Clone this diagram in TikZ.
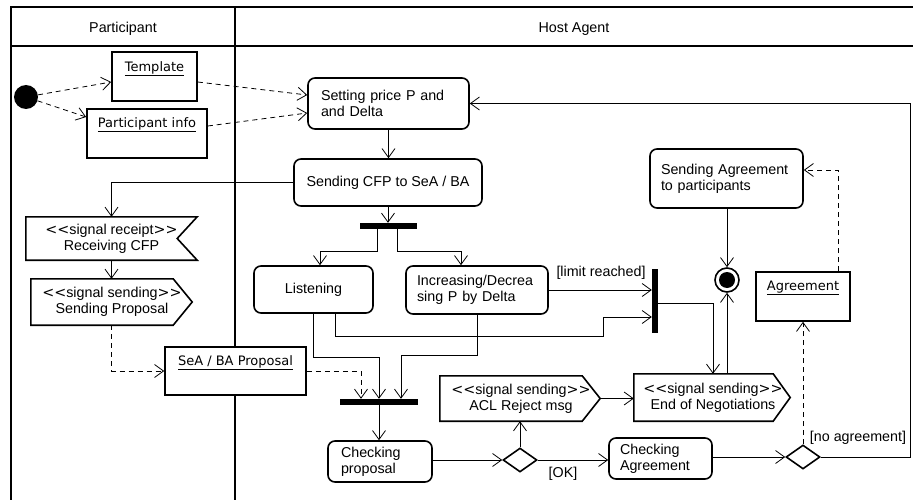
\documentclass[tikz,border=0pt]{standalone}
\usepackage{fontspec}
\setmainfont{Liberation Sans}
\newfontfamily\objfont{DejaVu Sans}
\usetikzlibrary{arrows.meta,calc,shapes.geometric}
% stereotype brackets
\newcommand\StOpen{{\objfont<\kern0pt<}}
\newcommand\StClose{{\objfont>\kern0pt>}}

\begin{document}
\begin{tikzpicture}[x=1pt,y=-1pt,
  txt/.style={font=\fontsize{14.3}{16}\selectfont},
  act/.style={txt, draw, line width=1.6pt, rounded corners=7pt, inner sep=0pt},
  obj/.style={draw, fill=white, line width=1.6pt, inner sep=0pt},
  objlbl/.style={font=\objfont\fontsize{13}{15}\selectfont, inner sep=0pt},
  sig/.style={txt, inner sep=0pt, align=center},
  sigshape/.style={draw, fill=white, line width=1.6pt},
  bar/.style={fill=black, inner sep=0pt},
  flow/.style={line width=0.8pt, -{Straight Barb[length=9pt,width=13pt]}},
  objflow/.style={flow, dash pattern=on 5pt off 4pt},
  guard/.style={txt, inner sep=0pt},
  lane/.style={line width=1.8pt},
  choice/.style={diamond, draw, fill=white, line width=1.6pt, inner sep=0pt,
                 minimum width=34pt, minimum height=24pt}
]
\useasboundingbox (0,0) rectangle (913,500);

% swimlanes
\draw[lane] (11,500) -- (11,7) -- (913,7);
\draw[lane] (11,46) -- (913,46);
\draw[lane] (235,7) -- (235,500);
\node[txt] (laneP) at (123,29) {Participant};
\node[txt] (laneH) at (574,29) {Host Agent};

% initial and final nodes
\node[circle, fill=black, minimum size=24pt, inner sep=0pt] (init) at (26,97) {};
\node[circle, draw, line width=1.6pt, minimum size=24pt, inner sep=0pt] (final) at (727,280) {};
\node[circle, fill=black, minimum size=16pt, inner sep=0pt] (finalDot) at (727,280) {};

% object nodes
\node[obj, minimum width=85pt, minimum height=49pt] (tmpl) at (154.5,76.5) {};
\node[objlbl] (tmplL) at (154.5,69) {\underline{Template}};
\node[obj, minimum width=120pt, minimum height=49pt] (pinfo) at (147,133.5) {};
\node[objlbl] (pinfoL) at (147,125) {\underline{Participant info}};
\node[obj, minimum width=141pt, minimum height=48pt] (seaba) at (235.5,371) {};
\node[objlbl] (seabaL) at (235.5,363) {\underline{SeA / BA Proposal}};
\node[obj, minimum width=94pt, minimum height=49pt] (agr) at (803,296.5) {};
\node[objlbl] (agrL) at (803,288) {\underline{Agreement}};

% actions
\node[act, minimum width=161pt, minimum height=51pt, text width=135pt, align=left]
  (setp) at (388.5,103.5) {Setting price P and\\and Delta};
\node[act, minimum width=188pt, minimum height=47pt] (cfp) at (388,182.5) {Sending CFP to SeA / BA};
\node[act, minimum width=119pt, minimum height=47pt] (listen) at (313.5,289.5) {Listening};
\node[act, minimum width=142pt, minimum height=48pt, text width=120pt, align=left]
  (incr) at (477,290) {Increasing/Decrea\\sing P by Delta};
\node[act, minimum width=153pt, minimum height=59pt, text width=131pt, align=left]
  (sagr) at (726.5,178.5) {Sending Agreement\\to participants};
\node[act, minimum width=104pt, minimum height=41pt, text width=78pt, align=left]
  (chkp) at (380,461.5) {Checking\\proposal};
\node[act, minimum width=103pt, minimum height=41pt, text width=81pt, align=left]
  (chka) at (660.5,458.5) {Checking\\Agreement};

% signal receipt / sending actions
\node[sig, minimum width=171pt, minimum height=43pt] (recv) at (111.5,238.5) {};
\draw[sigshape] (recv.north west) -- (recv.north east) -- ($(recv.east)+(-20,0)$)
  -- (recv.south east) -- (recv.south west) -- cycle;
\node[sig] (recvT) at (111.5,239) {\StOpen signal receipt\StClose\\Receiving CFP};

\node[sig, minimum width=161pt, minimum height=46pt] (sprop) at (111.5,302) {};
\draw[sigshape] (sprop.north west) -- ($(sprop.north east)+(-19,0)$) -- (sprop.east)
  -- ($(sprop.south east)+(-19,0)$) -- (sprop.south west) -- cycle;
\node[sig] (spropT) at (112,302) {\StOpen signal sending\StClose\\Sending Proposal};

\node[sig, minimum width=160pt, minimum height=45pt] (acl) at (520,398.5) {};
\draw[sigshape] (acl.north west) -- ($(acl.north east)+(-18,0)$) -- (acl.east)
  -- ($(acl.south east)+(-18,0)$) -- (acl.south west) -- cycle;
\node[sig] (aclT) at (521,399) {\StOpen signal sending\StClose\\ACL Reject msg};

\node[sig, minimum width=156pt, minimum height=47pt] (endn) at (712,397.5) {};
\draw[sigshape] (endn.north west) -- ($(endn.north east)+(-17,0)$) -- (endn.east)
  -- ($(endn.south east)+(-17,0)$) -- (endn.south west) -- cycle;
\node[sig] (endnT) at (713,398) {\StOpen signal sending\StClose\\End of Negotiations};

% fork / join bars
\node[bar, minimum width=57pt, minimum height=6pt] (fork) at (388.5,226) {};
\node[bar, minimum width=78pt, minimum height=6pt] (join) at (379,402) {};
\node[bar, minimum width=6pt, minimum height=64pt] (vbar) at (655,301) {};

% decisions
\node[choice] (d1) at (520,460) {};
\node[choice] (d2) at (803,457) {};

% object flows
\draw[objflow] (init) -- ($(tmpl.west)+(0,5.5)$);
\draw[objflow] (init) -- ($(pinfo.west)+(0,-16.5)$);
\draw[objflow] ($(tmpl.east)+(0,5.5)$) -- ($(setp.west)+(0,-8.5)$);
\draw[objflow] ($(pinfo.east)+(0,-7.5)$) -- ($(setp.west)+(0,9.5)$);
\draw[objflow] (sprop.south) |- (seaba.west);
\draw[objflow] (seaba.east) -| ($(join.north)+(-18,0)$);
\draw[objflow] (d2.north) -- (agr.south);
\draw[objflow] ($(agr.north)+(35,0)$) |- ($(sagr.east)+(0,-8.5)$);

% control flows
\draw[flow] (setp.south) -- (setp.south |- cfp.north);
\draw[flow] (cfp.west) -| (recv.north);
\draw[flow] (recv.south) -- (sprop.north);
\draw[flow] (cfp.south) -- (cfp.south |- fork.north);
\draw[flow] ($(fork.south)+(-11.5,0)$) -- ++(0,22) -| ($(listen.north)+(6.5,0)$);
\draw[flow] ($(fork.south)+(8.5,0)$) -- ++(0,22) -| ($(incr.north)+(-16,0)$);
\draw[flow] (listen.south) -- ++(0,44) -| (join.north);
\draw[flow] ($(listen.south)+(21.5,0)$) -- ++(0,23) -- ++(268,0) |- ($(vbar.west)+(0,16)$);
\draw[flow] (incr.south) -- ++(0,41) -| ($(join.north)+(22,0)$);
\draw[flow] (incr.east) -- (incr.east -| vbar.west);
\draw[flow] ($(vbar.east)+(0,2)$) -| ($(endn.north)+(1,0)$);
\draw[flow] (join.south) -- (join.south |- chkp.north);
\draw[flow] (d1.west -| chkp.east) -- (d1.west);
\draw[flow] (d1.north) -- (acl.south);
\draw[flow] (d1.east) -- (d1.east -| chka.west);
\draw[flow] (acl.east) -- (acl.east -| endn.west);
\draw[flow] (endn.north -| final) -- (final.south);
\draw[flow] (final.north |- sagr.south) -- (final.north);
\draw[flow] (d2.west -| chka.east) -- (d2.west);
\draw[flow] (d2.east) -- ++(90,0) |- (setp.east);

% guards
\node[guard] (limitL) at (601,273) {[limit reached]};
\node[guard] (okL) at (563,474) {[OK]};
\node[guard] (noagrL) at (858,438) {[no agreement]};
\end{tikzpicture}
\end{document}
